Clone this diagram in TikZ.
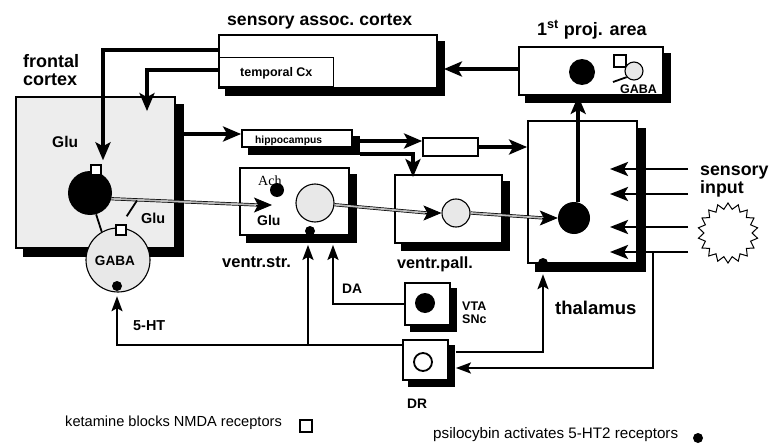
\documentclass[tikz,border=0pt]{standalone}
\usepackage{fontspec}
\setmainfont{Liberation Sans}
\newfontfamily\serifA{Liberation Serif}
\usetikzlibrary{arrows.meta,shapes.geometric,calc}
\pgfdeclarelayer{bg}
\pgfsetlayers{bg,main}
\newcommand\myfs[1]{\fontsize{#1}{#1}\selectfont}
\begin{document}
\begin{tikzpicture}[x=1pt,y=-1pt,
 every node/.style={inner sep=0pt},
 box/.style={draw, line width=1.8pt, fill=white, rectangle},
 lbl/.style={font=\bfseries},
 arrA/.style={line width=3.4pt, -{Stealth[length=18pt,width=15pt,inset=4pt]}},
 arrS/.style={line width=2.8pt, -{Stealth[length=18pt,width=14pt,inset=4pt]}},
 arrB/.style={line width=2.2pt, -{Stealth[length=15pt,width=11pt,inset=3pt]}},
 axon/.style={draw=black, line width=0.7pt, double=gray!55, double distance=1.8pt},
 axtip/.style={line width=0.8pt, -{Stealth[length=18pt,width=15pt,inset=4pt]}},
 blob/.style={circle, fill=black},
 pale/.style={circle, draw, line width=1.1pt, fill=gray!18},
 rec/.style={draw, line width=1.4pt, fill=white, minimum size=#1},
]
\useasboundingbox (0,0) rectangle (772,447);

% sensory assoc. cortex
\node[lbl, anchor=base west, font=\bfseries\myfs{17.6}] (tsac) at (227,25) {sensory assoc.\ cortex};
\node[box, minimum width=218, minimum height=53] (sac) at (328,61.5) {};
\node[draw, line width=1pt, fill=white, minimum width=114, minimum height=29, anchor=south west] (tmp) at (219,87) {};
\node[lbl, anchor=base west, font=\bfseries\myfs{12.5}] (ttmp) at (240,76) {temporal Cx};

% frontal cortex
\node[lbl, anchor=base west, font=\bfseries\myfs{18}] (tfc1) at (23,67) {frontal};
\node[lbl, anchor=base west, font=\bfseries\myfs{18}] (tfc2) at (23,85) {cortex};
\node[box, fill=gray!14, minimum width=159, minimum height=151] (fc) at (95.5,172.5) {};
\node[lbl, anchor=base west, font=\bfseries\myfs{15.5}] (tglu1) at (52,147) {Glu};
\node[blob, minimum size=44] (fglu) at (90,193) {};
\node[rec=10] (sq1) at (96,170) {};
\node[pale, minimum size=64] (fgaba) at (118,260) {};
\node[lbl, anchor=base, font=\bfseries\myfs{13.6}] (tgaba) at (115,265) {GABA};
\node[rec=10] (sq2) at (121,230) {};
\node[blob, minimum size=10] (dot1) at (117,286) {};
\node[lbl, anchor=base west, font=\bfseries\myfs{14.4}] (tglu2) at (141,223) {Glu};

% hippocampus and relay box
\node[box, minimum width=110, minimum height=17] (hip) at (297,138.5) {};
\node[lbl, anchor=base west, font=\bfseries\myfs{10.3}] (thip) at (255,143) {hippocampus};
\node[draw, line width=1.8pt, fill=white, minimum width=55, minimum height=18] (smb) at (450.5,147) {};

% ventral striatum
\node[box, minimum width=109, minimum height=67] (vstr) at (294.5,201.5) {};
\node[font=\serifA\myfs{14}, anchor=base west] (tach) at (258,185) {Ach};
\node[blob, minimum size=14] (ach) at (277,190) {};
\node[lbl, anchor=base west, font=\bfseries\myfs{14}] (tglu3) at (257,225) {Glu};
\node[pale, minimum size=38] (vstrc) at (315,203) {};
\node[blob, minimum size=10] (vdot) at (310,231) {};
\node[lbl, anchor=base west, font=\bfseries\myfs{16.5}] (tvstr) at (222,267) {ventr.str.};

% ventral pallidum
\node[box, minimum width=107, minimum height=68] (vpall) at (448.5,209) {};
\node[pale, minimum size=28] (vpallc) at (456,213) {};
\node[lbl, anchor=base west, font=\bfseries\myfs{16.2}] (tvpall) at (397,268) {ventr.pall.};

% thalamus
\node[box, minimum width=109, minimum height=142] (thal) at (582.5,192) {};
\node[blob, minimum size=32] (thc) at (574,218) {};
\node[blob, minimum size=10] (thdot) at (543,263) {};
\node[lbl, anchor=base west, font=\bfseries\myfs{18.5}] (tthal) at (555,314) {thalamus};

% 1st projection area
\node[lbl, anchor=base west, font=\bfseries\myfs{18}] (tproj) at (537,35) {1\textsuperscript{st} proj. area};
\node[box, minimum width=144, minimum height=48] (proj) at (591,71) {};
\node[blob, minimum size=26] (pglu) at (582,72) {};
\node[rec=12] (psq) at (620,61) {};
\node[pale, minimum size=18] (pgaba) at (634,71) {};
\node[lbl, anchor=base west, font=\bfseries\myfs{12.5}] (tpgaba) at (620,93) {GABA};
\coordinate (pl) at (613,82);
\draw[line width=1.8pt] (pl) -- (pgaba.220);

% VTA / SNc
\node[box, minimum width=45, minimum height=42] (vta) at (427.5,304) {};
\node[blob, minimum size=20] (vtad) at (425,303) {};
\node[lbl, anchor=base west, font=\bfseries\myfs{12.5}] (tvta1) at (462,310) {VTA};
\node[lbl, anchor=base west, font=\bfseries\myfs{12.5}] (tvta2) at (462,323) {SNc};

% DR
\node[box, minimum width=45, minimum height=40] (dr) at (425.5,360) {};
\node[circle, draw, line width=1.8pt, fill=white, minimum size=18] (drc) at (423,362) {};
\node[lbl, anchor=base west, font=\bfseries\myfs{13.8}] (tdr) at (407,408) {DR};

% sensory input
\node[lbl, anchor=base west, font=\bfseries\myfs{17.8}] (tsi1) at (700,175) {sensory};
\node[lbl, anchor=base west, font=\bfseries\myfs{17.8}] (tsi2) at (700,193) {input};
\node[star, star points=18, star point ratio=1.25, draw, line width=1pt, minimum size=60] (burst) at (728,233) {};

% legend
\node[anchor=base west, font=\myfs{14.6}] (tket) at (65,426) {ketamine blocks NMDA receptors};
\node[rec=12, line width=1.9pt] (lsq) at (306,426) {};
\node[anchor=base west, font=\myfs{15.2}] (tpsi) at (433,438) {psilocybin activates 5-HT2 receptors};
\node[blob, minimum size=10] (ldot) at (698,438) {};

% ---- drop shadows (behind everything) ----
\begin{pgfonlayer}{bg}
\fill[white] (0,0) rectangle (772,447);
\foreach \b/\o in {sac/7,fc/8,hip/7,vstr/7,vpall/7,thal/8,proj/7,vta/6,dr/6} {
  \fill[black] ($(\b.north west)+(\o,\o)$) rectangle ($(\b.south east)+(\o,\o)$);
}
\end{pgfonlayer}

% ---- connectors ----
\coordinate (c1) at (103,50);
\draw[arrA] (sac.west |- c1) -- (c1) -- ($(sq1.north -| c1)+(0,-4)$);
\coordinate (c2) at (147,70);
\draw[arrA] (tmp.west |- c2) -- (c2) -- ($(c2 |- fc.north)+(0,15)$);
\draw[arrA] ($(proj.west)+(0,-2)$) -- ($(sac.east |- proj.west)+(6,-2)$);
\draw[arrA] ($(fc.east)+(8,-38.5)$) -- ($(hip.west)+(0,-4.5)$);
\draw[arrA] ($(hip.east)+(0,2.5)$) -- ($(smb.west)+(0,-6)$);
\draw[arrA] ($(hip.south east)+(7,6)$) -| ($(vpall.north)+(-35.5,3)$);
\draw[arrA] (smb.east) -- (smb.east -| thal.west);
\draw[arrA] (thc.75) -- (thc.75 |- proj.south);

% axons
\coordinate (ax1) at (272,205);
\draw[axon] (fglu.-15) -- ($(ax1)+(-14,0)$);
\draw[axtip] ($(ax1)+(-16,0)$) -- (ax1);
\draw[axon] (vstrc.-5) -- ($(vpallc.west)+(-14,0)$);
\draw[axtip] ($(vpallc.west)+(-16,0)$) -- (vpallc.west);
\draw[axon] (vpallc.east) -- ($(thc.west)+(-14,0)$);
\draw[axtip] ($(thc.west)+(-16,0)$) -- (thc.west);
\coordinate (col) at (137,200.5);
\draw[line width=1.8pt] (col) -- ($(sq2.north east)+(0,-8)$);
\draw[line width=1.8pt] (fglu.286) -- (fgaba.120);

% sensory input arrows
\foreach \yy [count=\i] in {169,194,227,252} {
  \coordinate (si\i) at (688,\yy);
  \coordinate (ti\i) at (610,\yy);
  \draw[arrS] (si\i) -- (ti\i);
}
\coordinate (j1) at (653,252);
\draw[arrB] (j1) |- ($(dr.east)+(7,8)$);
\draw[arrB] ($(dr.east)+(7,-8)$) -| ($(thdot.south)+(0,6)$);
\draw[arrB] ($(dr.west)+(0,-15)$) -| ($(dot1.south)+(0,5)$);
\coordinate (br) at (308,345);
\draw[arrB] (br) -- ($(br |- vstr.south)+(0,9)$);
\draw[arrB] (vta.west) -| ($(vstr.south)+(38.5,9)$);

\node[lbl, anchor=base west, font=\bfseries\myfs{14.4}] (t5ht) at (133,330) {5-HT};
\node[lbl, anchor=base west, font=\bfseries\myfs{13.8}] (tda) at (342,293) {DA};
\end{tikzpicture}
\end{document}
